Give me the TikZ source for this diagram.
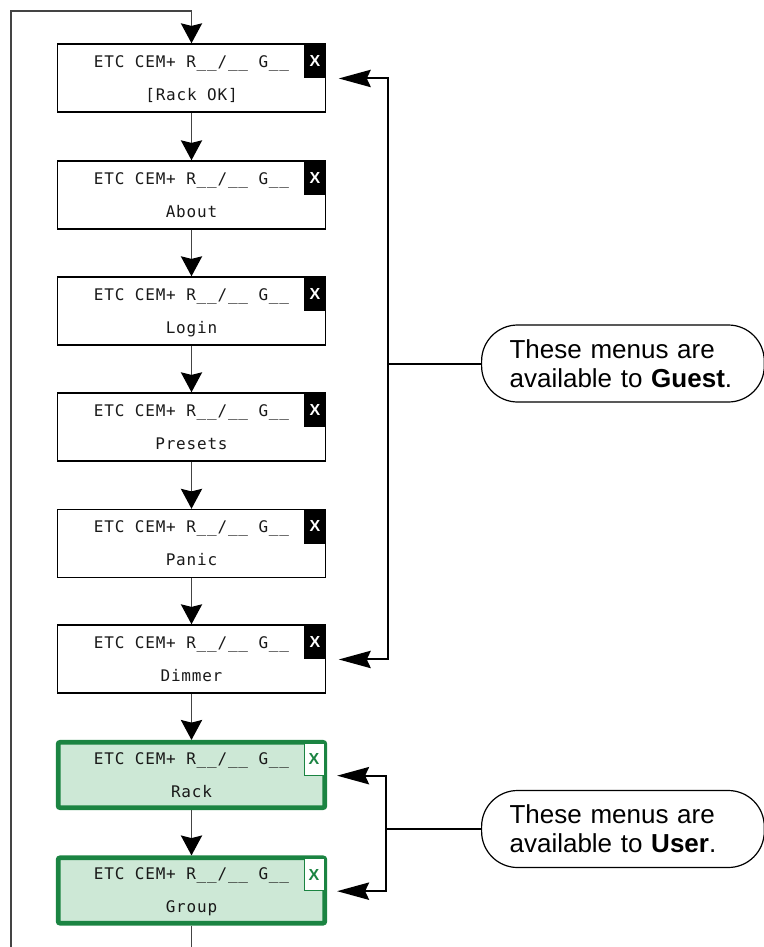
\documentclass[tikz,border=0pt]{standalone}
\usepackage{fontspec}
\setmainfont{Liberation Sans}
\newfontfamily\lcdfont[LetterSpace=5]{DejaVu Sans Mono}
\usetikzlibrary{arrows.meta,positioning}

\definecolor{usergreen}{HTML}{1B8442}
\definecolor{userfill}{HTML}{CDE8D6}
\definecolor{linkgray}{HTML}{444444}

\tikzset{
	menu/.style={draw,line width=1.1pt,minimum width=201pt,minimum height=51pt,inner sep=0pt},
	usermenu/.style={menu,draw=usergreen,fill=userfill,line width=3.6pt,rounded corners=1.5pt,minimum width=200pt,minimum height=49pt},
	head/.style={anchor=base,inner sep=0pt,text=black!90,font=\lcdfont\fontsize{12}{14}\selectfont},
	xbox/.style={anchor=north east,fill=black,text=white,inner sep=0pt,minimum width=16.5pt,minimum height=26pt,font=\bfseries\fontsize{12}{14}\selectfont},
	userx/.style={xbox,fill=white,draw=usergreen,line width=0.8pt,text=usergreen,minimum width=15pt,minimum height=24pt},
	link/.style={draw=linkgray,line width=0.9pt,-{Stealth[length=15pt,width=16pt,inset=2pt,color=black]}},
	brk/.style={line width=1.5pt,{Stealth[length=24pt,width=13pt,inset=3pt]}-{Stealth[length=24pt,width=13pt,inset=3pt]}},
	note/.style={draw,anchor=west,line width=0.9pt,rounded corners=27pt,minimum height=57.75pt,text width=170pt,inner xsep=21pt,align=left,font=\fontsize{19.5}{21.75}\selectfont}
}

\begin{document}
\begin{tikzpicture}[x=0.75pt,y=-0.75pt]
	\useasboundingbox (0,0) rectangle (764,947);
	\clip (0,0) rectangle (764,947);

	% menus for guest
	\node[menu] (m1) at (191.5,78) {};
	\node[head] (h1) at (191.5,67) {ETC CEM+ R\_\_/\_\_ G\_\_};
	\node[head] (n1) at (191.5,100) {[Rack OK]};
	\node[xbox] (x1) at (m1.north east) {X};

	\node[menu] (m2) at (191.5,195) {};
	\node[head] (h2) at (191.5,184) {ETC CEM+ R\_\_/\_\_ G\_\_};
	\node[head] (n2) at (191.5,217) {About};
	\node[xbox] (x2) at (m2.north east) {X};

	\node[menu] (m3) at (191.5,311) {};
	\node[head] (h3) at (191.5,300) {ETC CEM+ R\_\_/\_\_ G\_\_};
	\node[head] (n3) at (191.5,333) {Login};
	\node[xbox] (x3) at (m3.north east) {X};

	\node[menu] (m4) at (191.5,427) {};
	\node[head] (h4) at (191.5,416) {ETC CEM+ R\_\_/\_\_ G\_\_};
	\node[head] (n4) at (191.5,449) {Presets};
	\node[xbox] (x4) at (m4.north east) {X};

	\node[menu] (m5) at (191.5,543.5) {};
	\node[head] (h5) at (191.5,532.5) {ETC CEM+ R\_\_/\_\_ G\_\_};
	\node[head] (n5) at (191.5,565.5) {Panic};
	\node[xbox] (x5) at (m5.north east) {X};

	\node[menu] (m6) at (191.5,659) {};
	\node[head] (h6) at (191.5,648) {ETC CEM+ R\_\_/\_\_ G\_\_};
	\node[head] (n6) at (191.5,681) {Dimmer};
	\node[xbox] (x6) at (m6.north east) {X};

	% menus for user
	\node[usermenu] (m7) at (191.5,775) {};
	\node[head] (h7) at (191.5,764) {ETC CEM+ R\_\_/\_\_ G\_\_};
	\node[head] (n7) at (191.5,797) {Rack};
	\node[userx] (x7) at ([xshift=-2pt,yshift=-2pt]m7.north east) {X};

	\node[usermenu] (m8) at (191.5,890.5) {};
	\node[head] (h8) at (191.5,879.5) {ETC CEM+ R\_\_/\_\_ G\_\_};
	\node[head] (n8) at (191.5,912.5) {Group};
	\node[userx] (x8) at ([xshift=-2pt,yshift=-2pt]m8.north east) {X};

	% flow
	\draw[link] (m1.south) -- (m2.north);
	\draw[link] (m2.south) -- (m3.north);
	\draw[link] (m3.south) -- (m4.north);
	\draw[link] (m4.south) -- (m5.north);
	\draw[link] (m5.south) -- (m6.north);
	\draw[link] (m6.south) -- (m7.north);
	\draw[link] (m7.south) -- (m8.north);
	\draw[link] (m8.south) -- ++(0,40) -| (11,11) -| (m1.north);

	% notes
	\node[note] (guest) at (481,363.5) {These menus are\\available to \textbf{Guest}.};
	\draw[brk] ([xshift=9.4pt]x1.south east) -- ++(49,0) |- ([xshift=9.4pt]x6.south east);
	\draw[line width=1.5pt] (guest.west) -- ++(-94,0);

	\node[note] (user) at (481,829) {These menus are\\available to \textbf{User}.};
	\draw[brk] ([xshift=9.4pt]x7.south east) -- ++(49,0) |- ([xshift=9.4pt]x8.south east);
	\draw[line width=1.5pt] (user.west) -- ++(-94,0);
\end{tikzpicture}
\end{document}
